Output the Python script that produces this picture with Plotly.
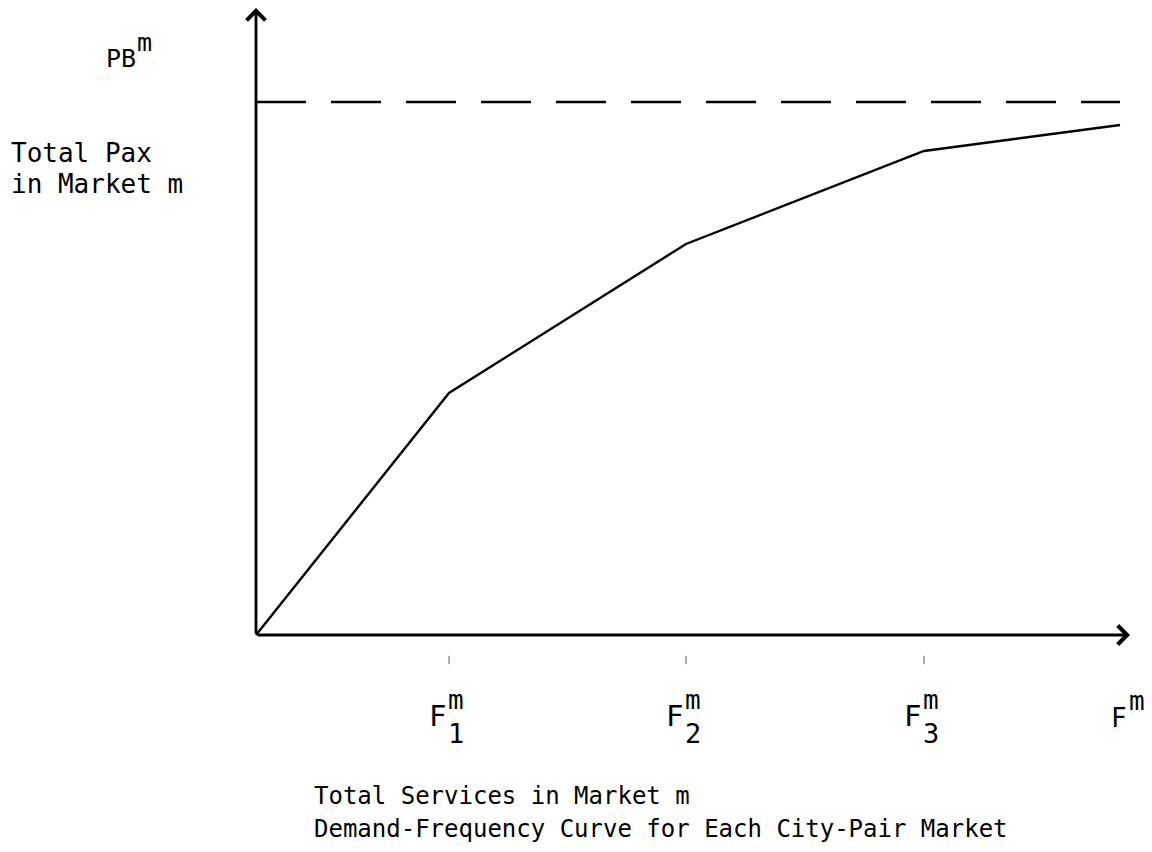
import plotly.graph_objects as go

# ---- data (units measured from the origin of the axes) ----
freq_x = [0, 193, 430, 668, 864]          # total services breakpoints
pax_y = [0, 242, 391, 484, 510]           # total pax in market
pb_level = 533                            # PB^m asymptote
pb_x_range = [0, 864]
tick_x = [193, 430, 668]                  # F1, F2, F3 tick marks
tick_subs = ["1", "2", "3", ""]           # subscripts for F labels at freq_x[1:]
x_axis_end = 874
y_axis_end = 627

FONT = "DejaVu Sans Mono"
PAGE_OFF = 8          # browser default body margin
W, H = 1152 - PAGE_OFF, 852 - PAGE_OFF
OX, OY = 256 - PAGE_OFF, 635 - PAGE_OFF   # origin position within figure (px)


def dx(px):          # px: page coordinate
    return px - PAGE_OFF - OX


def dy(py):
    return OY - (py - PAGE_OFF)


fig = go.Figure()

# dashed asymptote
fig.add_trace(go.Scatter(x=pb_x_range, y=[pb_level, pb_level], mode="lines",
                         line=dict(color="black", width=2.6, dash="50px,25px"),
                         hoverinfo="skip", showlegend=False))
# demand-frequency curve
fig.add_trace(go.Scatter(x=freq_x, y=pax_y, mode="lines",
                         line=dict(color="black", width=2.4),
                         hoverinfo="skip", showlegend=False))
# small tick marks below axis
fig.add_trace(go.Scatter(x=tick_x, y=[-25] * len(tick_x), mode="markers",
                         marker=dict(symbol="line-ns-open", size=6, color="#777",
                                     line=dict(color="#777", width=1.2)),
                         hoverinfo="skip", showlegend=False))

ann = []
# axes with arrows
ann.append(dict(x=x_axis_end, y=0, ax=0, ay=0, xref="x", yref="y", axref="x", ayref="y",
                text="", showarrow=True, arrowhead=4, arrowsize=1.3, arrowwidth=2.8,
                arrowcolor="black", standoff=0, startstandoff=0))
ann.append(dict(x=0, y=y_axis_end, ax=0, ay=0, xref="x", yref="y", axref="x", ayref="y",
                text="", showarrow=True, arrowhead=4, arrowsize=1.3, arrowwidth=2.8,
                arrowcolor="black", standoff=0, startstandoff=0))


def txt(text, x, y, size, xanchor="left"):
    ann.append(dict(x=x, y=y, xref="x", yref="y", text=text, showarrow=False,
                    xanchor=xanchor, yanchor="middle",
                    font=dict(family=FONT, size=size, color="black")))


# y label
txt("PB", dx(104), dy(58), 25)
txt("m", dx(135), dy(42), 25)
txt("Total Pax", dx(9), dy(153), 26)
txt("in Market m", dx(9), dy(184), 26)

# x labels F with super/subscripts
for xv, sub in zip(freq_x[1:], tick_subs):
    xp = xv + OX + PAGE_OFF
    if sub:
        txt("F", dx(xp - 1), dy(716), 29, xanchor="right")
        txt("m", dx(xp - 3), dy(700), 26)
        txt(sub, dx(xp - 3), dy(733), 27)
    else:
        txt("F", dx(xp + 9), dy(718), 26, xanchor="right")
        txt("m", dx(xp + 7), dy(701), 26)

# bottom caption
txt("Total Services in Market m", dx(312), dy(796), 24)
txt("Demand-Frequency Curve for Each City-Pair Market", dx(312), dy(829), 24)

fig.update_layout(
    width=W, height=H,
    margin=dict(l=0, r=0, t=0, b=0),
    paper_bgcolor="white", plot_bgcolor="white",
    xaxis=dict(range=[-OX, W - OX], visible=False, fixedrange=True),
    yaxis=dict(range=[OY - H, OY], visible=False, fixedrange=True),
    annotations=ann,
    showlegend=False,
)

fig.write_html("out.html")
